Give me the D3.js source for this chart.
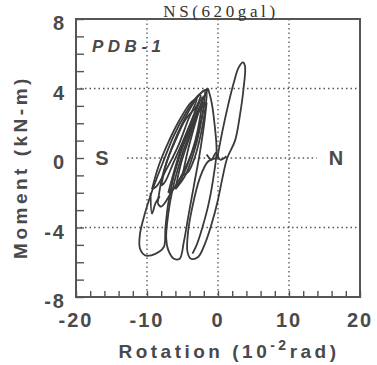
<!DOCTYPE html>
<html>
<head>
<meta charset="utf-8">
<script src="https://cdn.jsdelivr.net/npm/d3@7"></script>
<style>
  body { margin: 0; background: #fff; }
  svg { display: block; }
  text { font-family: "Liberation Sans", Arial, sans-serif; fill: #4a4a4a; }
</style>
</head>
<body>
<svg id="chart" width="377" height="365"></svg>
<script>
// tick values
const xTicks = [-20, -10, 0, 10, 20];
const yTicks = [-8, -4, 0, 4, 8];
const xGrid = [-10, 0, 10];
const yGrid = [-4, 4];

// hysteresis cycles, [rotation (1e-2 rad), moment (kN-m)]
const loopOuterLeft = [[-1.4, 4.0], [-2.8, 3.6], [-4.5, 2.6], [-6.2, 1.3], [-7.8, -0.3], [-9.2, -1.8], [-10.3, -3.2],
  [-11.0, -4.4], [-11.0, -5.2], [-10.3, -5.6], [-9.4, -5.6], [-8.3, -5.4], [-7.6, -5.1], [-7.4, -4.0],
  [-7.0, -2.6], [-6.2, -1.0], [-5.0, 0.6], [-3.6, 2.0], [-2.3, 3.2], [-1.4, 4.0]];
const loopMiddle = [[-1.6, 3.2], [-2.0, 1.8], [-2.6, 0.2], [-3.4, -1.6], [-4.2, -3.4], [-4.8, -4.8], [-5.4, -5.8],
  [-6.2, -5.8], [-7.0, -5.3], [-7.3, -4.6], [-7.0, -3.2], [-6.5, -2.0], [-5.5, -0.4], [-4.2, 1.2],
  [-2.8, 2.6], [-1.6, 3.2]];
const loopRight = [[-0.1, 0.0], [0.6, 1.5], [1.4, 3.0], [2.2, 4.3], [2.9, 5.2], [3.5, 5.5], [3.8, 5.3], [3.6, 4.0],
  [3.1, 2.5], [2.4, 1.0], [1.3, 0.0], [0.6, -1.2], [0.0, -2.4], [-0.9, -3.8], [-1.9, -5.0], [-2.8, -5.7],
  [-3.8, -5.8], [-4.3, -5.4], [-4.2, -4.2], [-3.6, -2.8], [-2.6, -1.2], [-1.4, -0.2], [-0.1, 0.0]];
const loopRightEdge = [[-1.4, 4.0], [-0.9, 3.2], [-0.5, 2.0], [-0.2, 0.4], [-0.6, -1.0], [-1.3, -2.6], [-2.2, -4.0],
  [-3.0, -5.0], [-3.6, -5.5]];
const loopInner1 = [[-8.5, -2.6], [-7.8, -1.0], [-6.5, 0.6], [-5.0, 2.0], [-3.4, 3.2], [-1.9, 3.9], [-2.0, 3.0],
  [-2.6, 1.8], [-3.6, 0.4], [-5.0, -0.9], [-6.6, -2.0], [-8.0, -2.8], [-8.5, -2.6]];
const loopInner2 = [[-7.0, -2.0], [-6.0, -0.5], [-4.8, 1.0], [-3.4, 2.4], [-2.2, 3.5], [-2.5, 2.4], [-3.2, 1.0],
  [-4.3, -0.4], [-5.6, -1.5], [-7.0, -2.0]];
const loopInner3 = [[-6.0, -1.8], [-5.2, -0.3], [-4.0, 1.2], [-2.8, 2.6], [-2.0, 3.2], [-2.6, 1.6], [-3.5, 0.2],
  [-4.6, -1.0], [-6.0, -1.8]];
const loopInner4 = [[-9.3, -1.8], [-8.4, -0.5], [-7.0, 0.9], [-5.4, 2.2], [-3.8, 3.2], [-3.0, 3.4], [-4.2, 2.2],
  [-5.6, 0.7], [-7.2, -0.6], [-8.6, -1.6], [-9.3, -1.8]];
const loopInner5 = [[-5.0, -1.0], [-4.2, 0.5], [-3.2, 2.0], [-2.2, 3.3], [-1.6, 3.8], [-1.8, 2.8], [-2.4, 1.4],
  [-3.3, 0.0], [-4.2, -0.8], [-5.0, -1.0]];
const loopInner6 = [[-8.0, -1.6], [-7.2, -0.2], [-6.0, 1.0], [-4.6, 2.2], [-3.0, 3.0], [-2.4, 3.6], [-3.5, 2.4],
  [-4.8, 1.1], [-6.3, -0.3], [-7.5, -1.4], [-8.0, -1.6]];
const loopHook = [[-9.5, -2.0], [-9.3, -3.2], [-8.8, -2.6], [-8.2, -2.2]];
const loopZig = [[-1.6, 0.2], [-0.9, -0.1], [-0.3, 0.3], [0.3, -0.1], [1.2, 0.1]];

const loops = [loopOuterLeft, loopMiddle, loopRight, loopRightEdge, loopInner1, loopInner2,
  loopInner3, loopInner4, loopInner5, loopInner6, loopHook, loopZig];

const svg = d3.select('#chart');
const plotLeft = 76, plotRight = 360, plotTop = 19, plotBottom = 297;

const x = d3.scaleLinear().domain([-20, 20]).range([plotLeft, plotRight]);
const y = d3.scaleLinear().domain([-8, 8]).range([plotBottom, plotTop]);

// dotted grid
const grid = svg.append('g')
  .attr('stroke', '#555')
  .attr('stroke-width', 1.3)
  .attr('stroke-dasharray', '1.5,3');
grid.selectAll('line.gx').data(xGrid).join('line')
  .attr('x1', d => x(d)).attr('x2', d => x(d))
  .attr('y1', plotTop).attr('y2', plotBottom);
grid.selectAll('line.gy').data(yGrid).join('line')
  .attr('x1', plotLeft).attr('x2', plotRight)
  .attr('y1', d => y(d)).attr('y2', d => y(d));
// zero line is broken around the S / N labels
grid.append('line')
  .attr('x1', x(-12.8)).attr('x2', x(13.9))
  .attr('y1', y(0)).attr('y2', y(0));

// curves
const line = d3.line()
  .x(d => x(d[0]))
  .y(d => y(d[1]))
  .curve(d3.curveCatmullRom.alpha(0.5));

svg.append('g').selectAll('path')
  .data(loops).join('path')
  .attr('d', line)
  .attr('fill', 'none')
  .attr('stroke', '#3a3a3a')
  .attr('stroke-width', 1.8)
  .attr('stroke-linejoin', 'round');

// minor ticks, drawn inward
svg.append('g')
  .attr('transform', `translate(${plotLeft},0)`)
  .call(d3.axisLeft(y).tickValues(d3.range(-8, 9, 1)).tickSize(-8).tickFormat(''))
  .call(g => g.select('.domain').remove())
  .call(g => g.selectAll('line').attr('stroke', '#555').attr('stroke-width', 1.4));
svg.append('g')
  .attr('transform', `translate(0,${plotBottom})`)
  .call(d3.axisBottom(x).tickValues(d3.range(-20, 21, 2)).tickSize(-6).tickFormat(''))
  .call(g => g.select('.domain').remove())
  .call(g => g.selectAll('line').attr('stroke', '#555').attr('stroke-width', 1.4));

// frame
svg.append('rect')
  .attr('x', plotLeft).attr('y', plotTop)
  .attr('width', plotRight - plotLeft).attr('height', plotBottom - plotTop)
  .attr('fill', 'none').attr('stroke', '#555').attr('stroke-width', 2);

// tick labels
svg.append('g').selectAll('text')
  .data(yTicks).join('text')
  .attr('x', 66).attr('y', d => y(d) + 4)
  .attr('dy', '0.35em')
  .attr('text-anchor', 'end')
  .attr('font-size', 20).attr('font-weight', 'bold')
  .attr('letter-spacing', 2)
  .text(d => d);
svg.append('g').selectAll('text')
  .data(xTicks).join('text')
  .attr('x', d => x(d)).attr('y', 327)
  .attr('text-anchor', 'middle')
  .attr('font-size', 20).attr('font-weight', 'bold')
  .attr('letter-spacing', 2)
  .text(d => d);

// axis titles
const xt = svg.append('text')
  .attr('x', 229).attr('y', 358)
  .attr('text-anchor', 'middle')
  .attr('font-size', 19).attr('font-weight', 'bold')
  .attr('letter-spacing', 3.5);
xt.append('tspan').text('Rotation (10');
xt.append('tspan').attr('dy', -8).attr('font-size', 14).text('-2');
xt.append('tspan').attr('dy', 8).text('rad)');

svg.append('text')
  .attr('transform', 'translate(27,167) rotate(-90)')
  .attr('text-anchor', 'middle')
  .attr('font-size', 19).attr('font-weight', 'bold')
  .attr('letter-spacing', 3.5)
  .text('Moment (kN-m)');

// title and annotations
svg.append('text')
  .attr('x', 221).attr('y', 16.5)
  .attr('text-anchor', 'middle')
  .attr('font-size', 17)
  .attr('letter-spacing', 3.6)
  .style('font-family', '"Liberation Serif", "Times New Roman", serif')
  .style('fill', '#333')
  .text('NS(620gal)');

svg.append('text')
  .attr('x', 92).attr('y', 52)
  .attr('font-size', 17).attr('font-weight', 'bold').attr('font-style', 'italic')
  .attr('letter-spacing', 4.5)
  .text('PDB-1');

svg.append('text')
  .attr('x', 102).attr('y', y(0)).attr('dy', '0.35em')
  .attr('text-anchor', 'middle')
  .attr('font-size', 20).attr('font-weight', 'bold')
  .text('S');
svg.append('text')
  .attr('x', 336).attr('y', y(0)).attr('dy', '0.35em')
  .attr('text-anchor', 'middle')
  .attr('font-size', 20).attr('font-weight', 'bold')
  .text('N');
</script>
</body>
</html>
